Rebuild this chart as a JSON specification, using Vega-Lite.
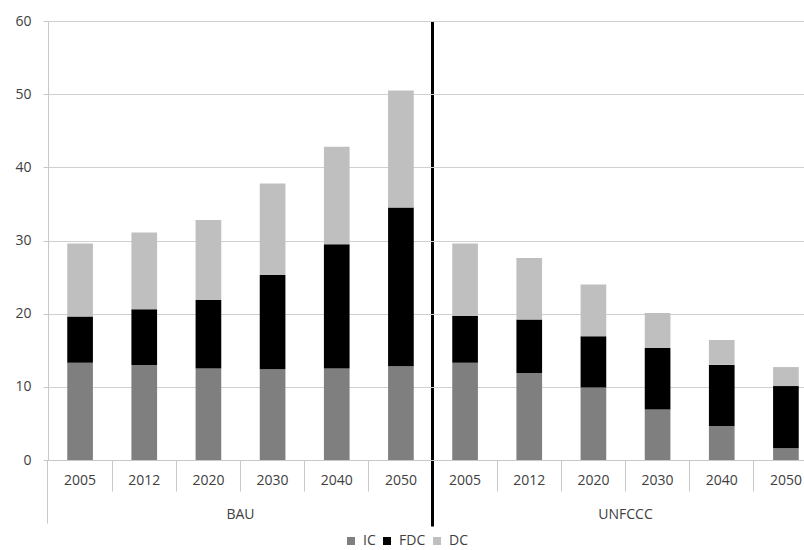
{
  "$schema": "https://vega.github.io/schema/vega-lite/v6.json",
  "width": 756,
  "height": 439,
  "autosize": {"type": "none"},
  "padding": {"left": 48, "top": 21, "right": 0, "bottom": 90},
  "background": "white",
  "config": {"view": {"stroke": null}, "font": "Open Sans"},
  "datasets": {
    "emissions": [
      {"cat": "BAU|2005", "series": "IC", "value": 13.3},
      {"cat": "BAU|2005", "series": "FDC", "value": 6.3},
      {"cat": "BAU|2005", "series": "DC", "value": 10.0},
      {"cat": "BAU|2012", "series": "IC", "value": 13.0},
      {"cat": "BAU|2012", "series": "FDC", "value": 7.6},
      {"cat": "BAU|2012", "series": "DC", "value": 10.5},
      {"cat": "BAU|2020", "series": "IC", "value": 12.5},
      {"cat": "BAU|2020", "series": "FDC", "value": 9.4},
      {"cat": "BAU|2020", "series": "DC", "value": 10.9},
      {"cat": "BAU|2030", "series": "IC", "value": 12.4},
      {"cat": "BAU|2030", "series": "FDC", "value": 12.9},
      {"cat": "BAU|2030", "series": "DC", "value": 12.5},
      {"cat": "BAU|2040", "series": "IC", "value": 12.5},
      {"cat": "BAU|2040", "series": "FDC", "value": 17.0},
      {"cat": "BAU|2040", "series": "DC", "value": 13.3},
      {"cat": "BAU|2050", "series": "IC", "value": 12.8},
      {"cat": "BAU|2050", "series": "FDC", "value": 21.7},
      {"cat": "BAU|2050", "series": "DC", "value": 16.0},
      {"cat": "UNFCCC|2005", "series": "IC", "value": 13.3},
      {"cat": "UNFCCC|2005", "series": "FDC", "value": 6.4},
      {"cat": "UNFCCC|2005", "series": "DC", "value": 9.9},
      {"cat": "UNFCCC|2012", "series": "IC", "value": 11.9},
      {"cat": "UNFCCC|2012", "series": "FDC", "value": 7.3},
      {"cat": "UNFCCC|2012", "series": "DC", "value": 8.4},
      {"cat": "UNFCCC|2020", "series": "IC", "value": 9.9},
      {"cat": "UNFCCC|2020", "series": "FDC", "value": 7.0},
      {"cat": "UNFCCC|2020", "series": "DC", "value": 7.1},
      {"cat": "UNFCCC|2030", "series": "IC", "value": 6.9},
      {"cat": "UNFCCC|2030", "series": "FDC", "value": 8.4},
      {"cat": "UNFCCC|2030", "series": "DC", "value": 4.8},
      {"cat": "UNFCCC|2040", "series": "IC", "value": 4.6},
      {"cat": "UNFCCC|2040", "series": "FDC", "value": 8.4},
      {"cat": "UNFCCC|2040", "series": "DC", "value": 3.4},
      {"cat": "UNFCCC|2050", "series": "IC", "value": 1.6},
      {"cat": "UNFCCC|2050", "series": "FDC", "value": 8.5},
      {"cat": "UNFCCC|2050", "series": "DC", "value": 2.6}
    ],
    "groups": [
      {"cat": "BAU|2030", "group": "BAU"},
      {"cat": "UNFCCC|2030", "group": "UNFCCC"}
    ]
  },
  "layer": [
    {
      "data": {"name": "emissions"},
      "mark": {"type": "bar"},
      "encoding": {
        "x": {
          "field": "cat",
          "type": "nominal",
          "sort": null,
          "scale": {"range": [0, 770], "paddingInner": 0.6, "paddingOuter": 0.3},
          "axis": {
            "title": null,
            "bandPosition": -0.75,
            "labelExpr": "split(datum.value, '|')[1]",
            "labelAngle": 0,
            "labelFontSize": 14,
            "labelColor": "#404040",
            "labelPadding": {"condition": [
              {"test": "datum.value === 'UNFCCC|2005'", "value": -53},
              {"test": "datum.value === 'BAU|2005'", "value": -50}
            ], "value": -18},
            "domainColor": "#c8c8c8",
            "tickColor": {"condition": {"test": "datum.value === 'UNFCCC|2005'", "value": "#000000"}, "value": "#c8c8c8"},
            "tickWidth": {"condition": {"test": "datum.value === 'UNFCCC|2005'", "value": 3}, "value": 1},
            "tickSize": {"condition": [
              {"test": "datum.value === 'UNFCCC|2005'", "value": 66},
              {"test": "datum.value === 'BAU|2005'", "value": 63}
            ], "value": 31},
            "grid": true,
            "gridColor": "#000000",
            "gridWidth": 3,
            "gridOpacity": {"condition": {"test": "datum.value === 'UNFCCC|2005'", "value": 1}, "value": 0}
          }
        },
        "y": {
          "field": "value",
          "type": "quantitative",
          "stack": "zero",
          "scale": {"domain": [0, 60]},
          "axis": {
            "title": null,
            "values": [0, 10, 20, 30, 40, 50, 60],
            "labelFontSize": 14,
            "labelColor": "#404040",
            "labelPadding": 12,
            "tickSize": 5,
            "tickColor": "#c8c8c8",
            "domainColor": "#c8c8c8",
            "grid": true,
            "gridColor": "#d0d0d0"
          }
        },
        "color": {
          "field": "series",
          "type": "nominal",
          "sort": ["IC", "FDC", "DC"],
          "scale": {"domain": ["IC", "FDC", "DC"], "range": ["#7f7f7f", "#000000", "#bfbfbf"]},
          "legend": {
            "title": null,
            "orient": "none",
            "legendX": 296,
            "legendY": 513,
            "direction": "horizontal",
            "symbolType": "square",
            "symbolSize": 64,
            "symbolStrokeWidth": 0,
            "labelFontSize": 14,
            "labelColor": "#404040",
            "labelOffset": 5,
            "columnPadding": 4
          }
        }
      }
    },
    {
      "data": {"name": "groups"},
      "mark": {"type": "text", "dy": 55, "fontSize": 14, "color": "#404040", "baseline": "middle"},
      "encoding": {
        "x": {"field": "cat", "type": "nominal", "sort": null, "bandPosition": -0.75},
        "y": {"datum": 0},
        "text": {"field": "group"}
      }
    }
  ]
}
